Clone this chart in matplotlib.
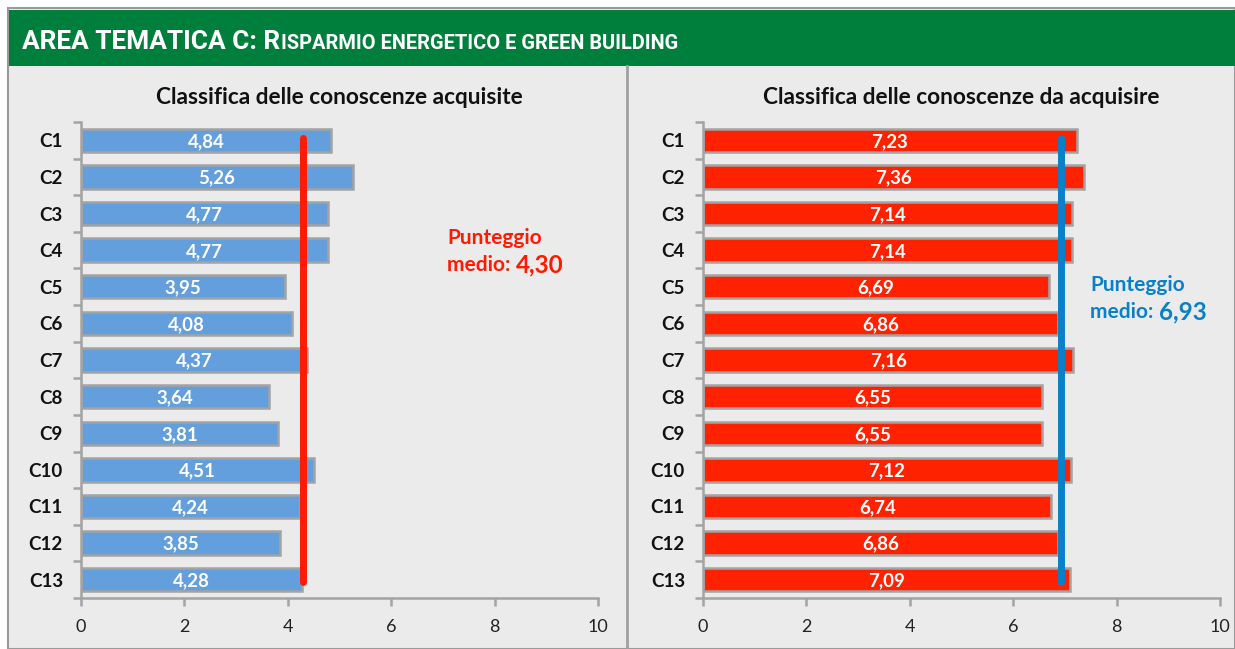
import matplotlib
matplotlib.use("Agg")
import matplotlib.pyplot as plt
from matplotlib.patches import Rectangle
from matplotlib.lines import Line2D

categories = ["C1", "C2", "C3", "C4", "C5", "C6", "C7", "C8", "C9", "C10", "C11", "C12", "C13"]
acquisite = [4.84, 5.26, 4.77, 4.77, 3.95, 4.08, 4.37, 3.64, 3.81, 4.51, 4.24, 3.85, 4.28]
da_acquisire = [7.23, 7.36, 7.14, 7.14, 6.69, 6.86, 7.16, 6.55, 6.55, 7.12, 6.74, 6.86, 7.09]
media_acq = 4.30
media_da = 6.93
xticks = [0, 2, 4, 6, 8, 10]
title_left = "Classifica delle conoscenze acquisite"
title_right = "Classifica delle conoscenze da acquisire"
header_big = "AREA TEMATICA C: R"
header_small = "ISPARMIO ENERGETICO E GREEN BUILDING"

FONT = ["Lato", "DejaVu Sans"]
HFONT = ["Roboto", "Liberation Sans", "DejaVu Sans"]
W, H = 1235, 649
fig = plt.figure(figsize=(W / 100, H / 100), dpi=100)
fig.patch.set_facecolor("white")

def fx(px):
    return px / W

def fy(py):
    return 1 - py / H

# backgrounds
fig.add_artist(Rectangle((fx(8), 0), fx(W - 8), fy(8), transform=fig.transFigure,
                         facecolor="#ebebeb", edgecolor="#9a9a9a", lw=1.5, zorder=0))
fig.add_artist(Rectangle((fx(9), fy(66)), fx(W - 9), (66 - 10) / H, transform=fig.transFigure,
                         facecolor="#007f3c", edgecolor="none", zorder=1))
fig.add_artist(Line2D([fx(627), fx(627)], [0, fy(66)], transform=fig.transFigure,
                      color="#a0a0a0", lw=2, zorder=1))

fig.canvas.draw()
renderer = fig.canvas.get_renderer()

# header with small caps, fitted to the reference width
def header_width(s_big, s_small):
    total = 0
    for txt, size in [(header_big, s_big), (header_small, s_small)]:
        t = fig.text(0, 0, txt, fontsize=size, family=HFONT, weight="bold")
        total += t.get_window_extent(renderer=renderer).width + 0.5
        t.remove()
    return total

base_big, base_small = 19.0, 14.5
scale = min(1.0, 656 / header_width(base_big, base_small))
xpos = 22
for txt, size in [(header_big, base_big * scale), (header_small, base_small * scale)]:
    t = fig.text(fx(xpos), fy(49), txt, fontsize=size, color="white", family=HFONT,
                 weight="bold", ha="left", va="baseline", zorder=3)
    xpos += t.get_window_extent(renderer=renderer).width + 0.5

def panel(left_px, values, mean, color, mean_color, title, ann_xy, ann_color):
    x0, x1 = left_px, left_px + 517
    ytop, ybot = 122, 598
    ax = fig.add_axes([fx(x0), fy(ybot), (x1 - x0) / W, (ybot - ytop) / H])
    ax.set_facecolor("none")
    n = len(categories)
    ypos = list(range(n))
    ax.barh(ypos, values, height=0.64, color=color, edgecolor="#a3a3a3", linewidth=1.8, zorder=2)
    for y, v in zip(ypos, values):
        ax.text(v / 2, y + 0.03, f"{v:.2f}".replace(".", ","), ha="center", va="center",
                color="white", fontsize=13.5, weight="bold", family=FONT, zorder=4)
    ax.plot([mean, mean], [-0.05, n - 1 + 0.05], color=mean_color, lw=5,
            solid_capstyle="round", zorder=5)
    ax.set_xlim(0, 10)
    ax.set_ylim(n - 0.5, -0.5)
    ax.set_xticks(xticks)
    ax.set_xticklabels([str(t) for t in xticks], family=FONT, fontsize=13, color="#222222")
    ax.set_yticks(ypos)
    ax.set_yticklabels(categories, family=FONT, fontsize=13.5, weight="bold", color="#111111")
    ax.set_yticks([i - 0.5 for i in range(n + 1)], minor=True)
    ax.tick_params(axis="y", which="major", length=0, pad=13)
    ax.tick_params(axis="y", which="minor", length=6, width=1.8, color="#a3a3a3")
    ax.tick_params(axis="x", length=6, width=1.8, color="#a3a3a3", pad=9)
    for s in ["top", "right"]:
        ax.spines[s].set_visible(False)
    for s in ["left", "bottom"]:
        ax.spines[s].set_color("#a3a3a3")
        ax.spines[s].set_linewidth(1.8)
    fig.text(fx((x0 + x1) / 2), fy(97), title, ha="center", va="center", fontsize=16.3,
             weight="bold", family=FONT, color="#111111")
    ax_, ay_ = ann_xy
    fig.text(fx(ax_), fy(ay_), "Punteggio", ha="left", va="center", fontsize=15,
             weight="bold", family=FONT, color=ann_color)
    t = fig.text(fx(ax_), fy(ay_ + 27), "medio: ", ha="left", va="center", fontsize=15,
                 weight="bold", family=FONT, color=ann_color)
    bb = t.get_window_extent(renderer=renderer)
    fig.text(fx(ax_) + bb.width / W, fy(ay_ + 27), f"{mean:.2f}".replace(".", ","),
             ha="left", va="center", fontsize=17.5, weight="bold", family=FONT, color=ann_color)
    return ax

panel(81, acquisite, media_acq, "#639fdc", "#ff1a00", title_left, (447, 238), "#ff1a00")
panel(703, da_acquisire, media_da, "#ff2200", "#0a80c8", title_right, (1090, 285), "#0a80c8")

fig.savefig("out.png", dpi=100, facecolor=fig.get_facecolor())
